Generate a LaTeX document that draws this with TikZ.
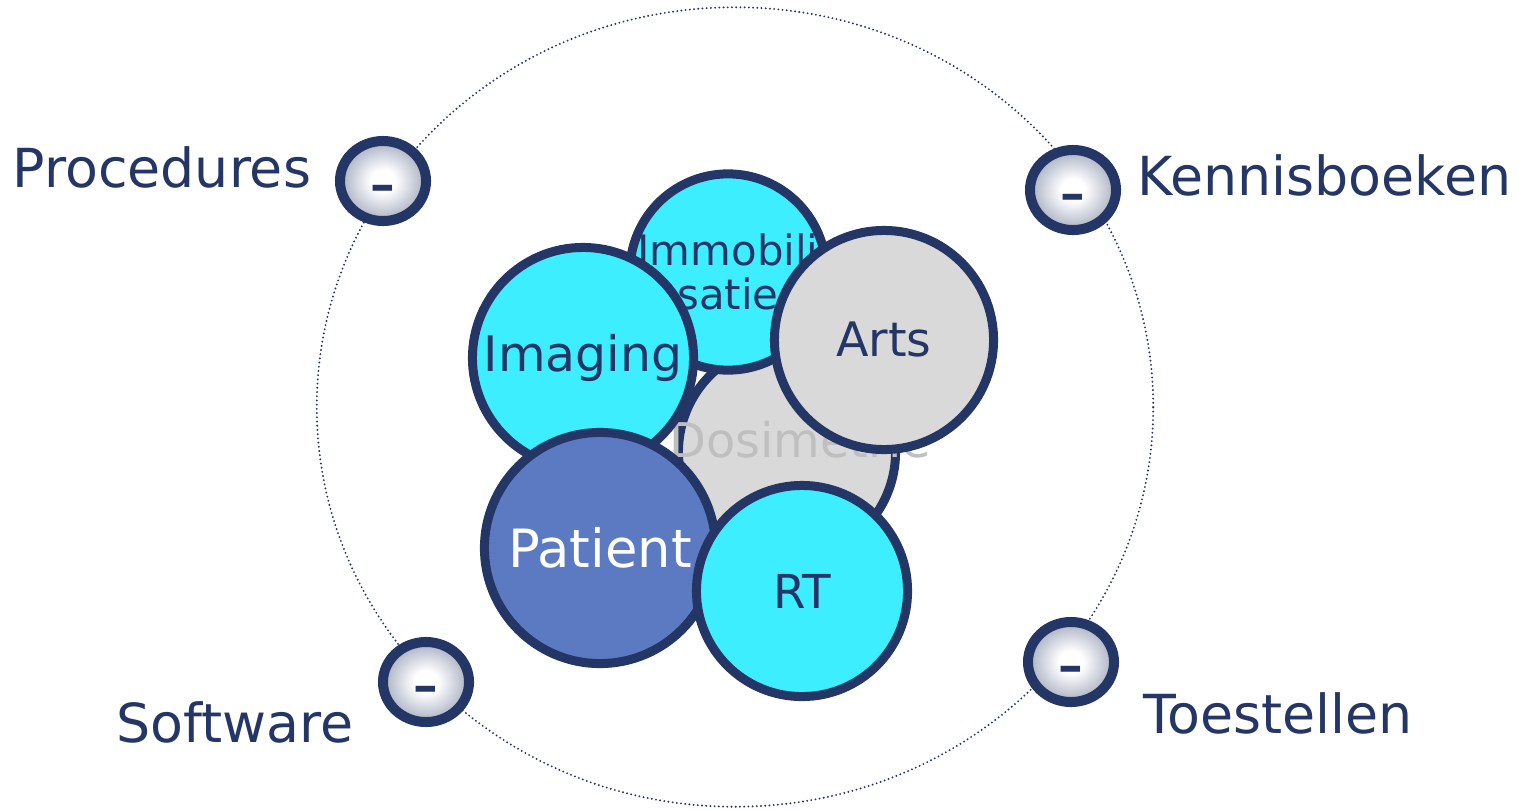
\documentclass[tikz,border=0pt]{standalone}
\usepackage{fontspec}
\setmainfont{DejaVu Sans}
\usetikzlibrary{shapes.geometric}
\definecolor{navy}{RGB}{36,54,101}
\definecolor{cyanfill}{RGB}{60,238,255}
\definecolor{patblue}{RGB}{92,122,194}
\definecolor{lgray}{RGB}{217,217,217}
\definecolor{dgray}{RGB}{191,191,191}
\colorlet{knoprand}{navy!60!white}
\pgfdeclareradialshading{knopshade}{\pgfpoint{0bp}{0bp}}{color(0bp)=(white); color(7bp)=(white); color(34bp)=(knoprand); color(50bp)=(knoprand)}
\begin{document}
\begin{tikzpicture}[x=0.01cm, y=-0.01cm, line join=round,
    bol/.style={circle, draw=navy, line width=0.09cm, inner sep=0pt, text=navy},
    knop/.style={ellipse, draw=navy, line width=0.1cm, inner sep=0pt,
        minimum width=0.86cm, minimum height=0.80cm,
        shading=knopshade, text=navy,
        font=\fontsize{21}{21}\selectfont, text height=15.6pt, text depth=0pt},
    lbl/.style={anchor=base west, inner sep=0pt, text=navy, font=\fontsize{15.3}{17}\selectfont}]
    \useasboundingbox (0,0) rectangle (1519,809);
    % --- 外側の点線楕円 ---
    \draw[navy, line width=0.6pt, line cap=round, dash pattern=on 0pt off 1.2pt]
        (735,407) ellipse [x radius=4.18cm, y radius=3.995cm];
    % --- 中央の円(奥から手前へ) ---
    \node[bol, fill=lgray, minimum size=2.17cm] (dosi) at (787,452) {};
    \node[inner sep=0pt, text=dgray, font=\fontsize{13.6}{16}\selectfont] (dosiL) at (800,440) {Dosimetrie};
    \node[bol, fill=cyanfill, minimum size=1.91cm, align=center,
        font=\fontsize{11.9}{12.4}\selectfont] (immob) at (728,272) {Immobili\\satie};
    \node[bol, fill=cyanfill, minimum size=2.21cm, font=\fontsize{13.9}{16}\selectfont] (imaging) at (583,358) {Imaging};
    \node[bol, fill=lgray, minimum size=2.19cm, font=\fontsize{13.5}{16}\selectfont] (arts) at (884,340) {Arts};
    \node[bol, fill=patblue, text=white, minimum size=2.31cm, font=\fontsize{15}{16}\selectfont] (patient) at (600,548) {Patient};
    \node[bol, fill=cyanfill, minimum size=2.11cm, font=\fontsize{13.3}{16}\selectfont] (rt) at (802,591) {RT};
    % --- 外側のボタンとラベル ---
    \node[knop] (proc) at (383,181) {-};
    \node[lbl] (procL) at (12,187) {Procedures};
    \node[knop] (kennis) at (1073,190) {-};
    \node[lbl] (kennisL) at (1137,195) {Kennisboeken};
    \node[knop] (soft) at (426,682) {-};
    \node[lbl] (softL) at (116,742) {Software};
    \node[knop] (toest) at (1071,662) {-};
    \node[lbl] (toestL) at (1143,733) {Toestellen};
\end{tikzpicture}
\end{document}
